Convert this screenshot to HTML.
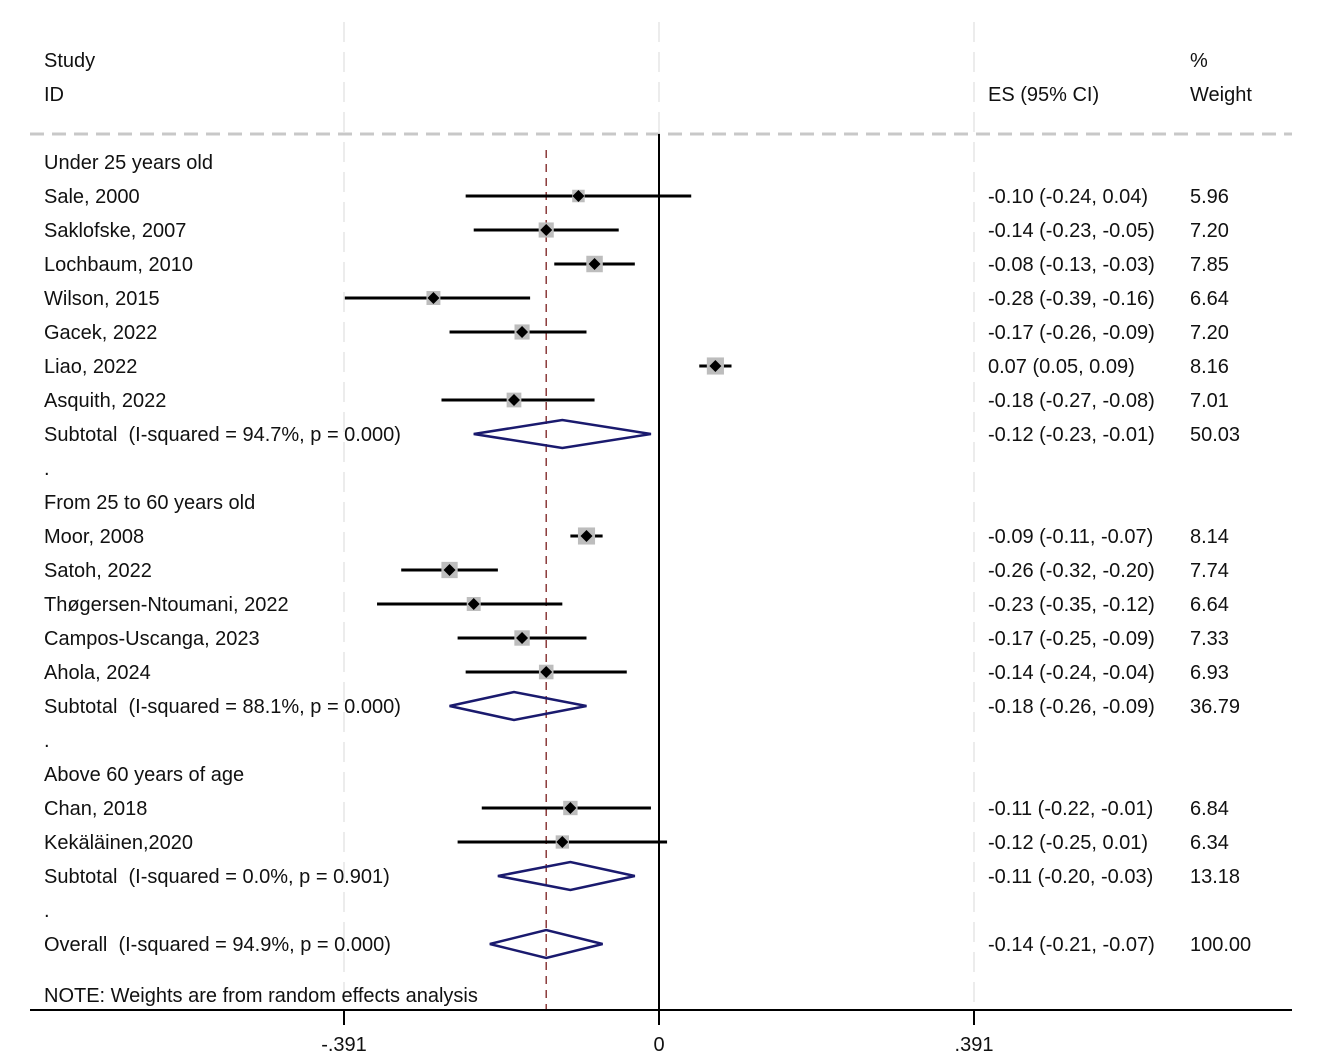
<!DOCTYPE html>
<html><head><meta charset="utf-8"><style>
body{margin:0;background:#fff}
svg text{font-family:"Liberation Sans",sans-serif;font-size:20px;fill:#111;white-space:pre}
</style></head><body>
<svg id="c" width="1325" height="1058" xmlns="http://www.w3.org/2000/svg"></svg>
<script>
const labels=["Under 25 years old","Sale, 2000","Saklofske, 2007","Lochbaum, 2010","Wilson, 2015","Gacek, 2022","Liao, 2022","Asquith, 2022","Subtotal  (I-squared = 94.7%, p = 0.000)",".","From 25 to 60 years old","Moor, 2008","Satoh, 2022","Thøgersen-Ntoumani, 2022","Campos-Uscanga, 2023","Ahola, 2024","Subtotal  (I-squared = 88.1%, p = 0.000)",".","Above 60 years of age","Chan, 2018","Kekäläinen,2020","Subtotal  (I-squared = 0.0%, p = 0.901)",".","Overall  (I-squared = 94.9%, p = 0.000)"];
const kinds=["h","s","s","s","s","s","s","s","d","b","h","s","s","s","s","s","d","b","h","s","s","d","b","d"];
const es=[null,-0.10,-0.14,-0.08,-0.28,-0.17,0.07,-0.18,-0.12,null,null,-0.09,-0.26,-0.23,-0.17,-0.14,-0.18,null,null,-0.11,-0.12,-0.11,null,-0.14];
const lo=[null,-0.24,-0.23,-0.13,-0.39,-0.26,0.05,-0.27,-0.23,null,null,-0.11,-0.32,-0.35,-0.25,-0.24,-0.26,null,null,-0.22,-0.25,-0.20,null,-0.21];
const hi=[null,0.04,-0.05,-0.03,-0.16,-0.09,0.09,-0.08,-0.01,null,null,-0.07,-0.20,-0.12,-0.09,-0.04,-0.09,null,null,-0.01,0.01,-0.03,null,-0.07];
const weights=[null,"5.96","7.20","7.85","6.64","7.20","8.16","7.01","50.03",null,null,"8.14","7.74","6.64","7.33","6.93","36.79",null,null,"6.84","6.34","13.18",null,"100.00"];
const overallES=-0.14;
const ticks=[-0.391,0,0.391];
const tickLabels=["-.391","0",".391"];
const svg=document.getElementById('c');
const NS="http://www.w3.org/2000/svg";
const X=v=>659+v*805.6;
const rowY=i=>i===23?944:162+i*34;
function el(t,a,name,txt){const e=document.createElementNS(NS,t);for(const k in a)e.setAttribute(k,a[k]);


if(txt!==undefined)e.textContent=txt;svg.appendChild(e);return e;}
ticks.forEach((t,i)=>{if(t!==0)el('line',{x1:X(t),x2:X(t),y1:22,y2:1010,stroke:'#ececec','stroke-width':2,'stroke-dasharray':'20 10'},'grid-line');});
el('line',{x1:X(0),x2:X(0),y1:22,y2:134,stroke:'#ececec','stroke-width':2,'stroke-dasharray':'20 10'},'grid-line-top');
el('line',{x1:30,x2:1292,y1:134,y2:134,stroke:'#c8c8c8','stroke-width':3,'stroke-dasharray':'14 8'},'header-separator');
el('text',{x:44,y:67},'study-header','Study');
el('text',{x:44,y:101},'id-header','ID');
el('text',{x:988,y:101},'es-header','ES (95% CI)');
el('text',{x:1190,y:67},'percent-header','%');
el('text',{x:1190,y:101},'weight-header','Weight');
el('line',{x1:X(0),x2:X(0),y1:134,y2:1010,stroke:'#000','stroke-width':2},'null-line');
el('line',{x1:X(overallES),x2:X(overallES),y1:150,y2:1010,stroke:'#8b3a3a','stroke-width':1.5,'stroke-dasharray':'8 6'},'overall-effect-line');
labels.forEach((l,i)=>{const y=rowY(i);
 el('text',{x:44,y:y+7},'row-label',l);
 if(es[i]===null)return;
 const f=v=>v.toFixed(2);
 el('text',{x:988,y:y+7},'es-ci-text',`${f(es[i])} (${f(lo[i])}, ${f(hi[i])})`);
 el('text',{x:1190,y:y+7},'weight-text',weights[i]);
 if(kinds[i]==='s'){
  el('line',{x1:X(lo[i]),x2:X(hi[i]),y1:y,y2:y,stroke:'#000','stroke-width':3},'ci-line');
  const s=parseFloat(weights[i])*2.1;
  el('rect',{x:X(es[i])-s/2,y:y-s/2,width:s,height:s,fill:'#bdbdbd'},'weight-box');
  el('polygon',{points:`${X(es[i])-6},${y} ${X(es[i])},${y-6} ${X(es[i])+6},${y} ${X(es[i])},${y+6}`,fill:'#000'},'point-estimate');
 }else if(kinds[i]==='d'){
  el('polygon',{points:`${X(lo[i])},${y} ${X(es[i])},${y-14} ${X(hi[i])},${y} ${X(es[i])},${y+14}`,fill:'none',stroke:'#1a1a6e','stroke-width':2.5},'pooled-diamond');
 }});
el('text',{x:44,y:1002},'note','NOTE: Weights are from random effects analysis');
el('line',{x1:30,x2:1292,y1:1010,y2:1010,stroke:'#000','stroke-width':2},'x-axis');
ticks.forEach((t,i)=>{el('line',{x1:X(t),x2:X(t),y1:1010,y2:1025,stroke:'#000','stroke-width':2},'x-tick');
 el('text',{x:X(t),y:1051,'text-anchor':'middle'},'x-tick-label',tickLabels[i]);});
</script>
</body></html>
